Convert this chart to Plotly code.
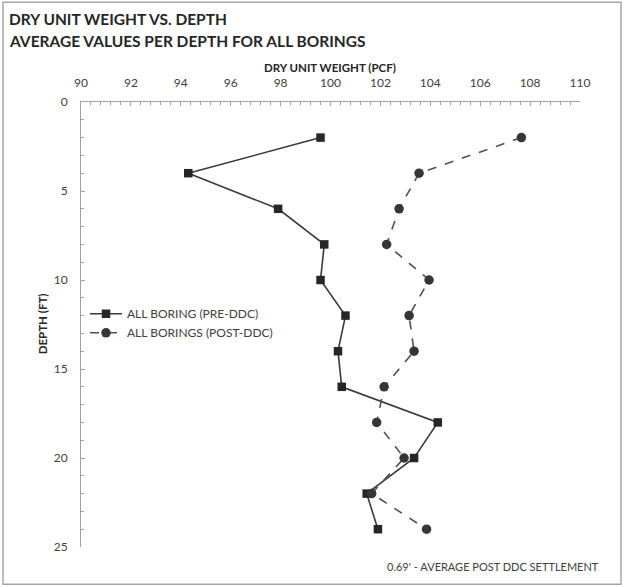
import plotly.graph_objects as go

# Depth of each averaged sample (ft)
depth_ft = [2, 4, 6, 8, 10, 12, 14, 16, 18, 20, 22, 24]

# Average dry unit weight (pcf) before and after dynamic deep compaction
pre_ddc = [99.6, 94.3, 97.9, 99.75, 99.6, 100.6, 100.3, 100.45, 104.3, 103.35, 101.45, 101.9]
post_ddc = [107.65, 103.55, 102.75, 102.25, 103.95, 103.15, 103.35, 102.15, 101.85, 102.95, 101.65, 103.85]

x_ticks = [90, 92, 94, 96, 98, 100, 102, 104, 106, 108, 110]
y_ticks = [0, 5, 10, 15, 20, 25]

W, H = 624, 587
L, R, T, B = 81, 580, 101.7, 546.7
FONT = "Lato"
AX = "#a0a0a0"
TXT = "#404040"


def px(x):
    return (x - L) / (R - L)


def py(y):
    return (B - y) / (B - T)


fig = go.Figure()
fig.add_trace(go.Scatter(
    x=pre_ddc, y=depth_ft, mode="lines+markers", name="ALL BORING (PRE-DDC)",
    line=dict(color="#3a3a3a", width=1.6),
    marker=dict(symbol="square", size=8.5, color="#262626"),
))
fig.add_trace(go.Scatter(
    x=post_ddc, y=depth_ft, mode="lines+markers", name="ALL BORINGS (POST-DDC)",
    line=dict(color="#505050", width=1.6, dash="dash"),
    marker=dict(symbol="circle", size=9.5, color="#363636"),
))

fig.update_layout(
    width=W, height=H,
    margin=dict(l=L, r=W - R, t=T, b=H - B, pad=0),
    paper_bgcolor="white", plot_bgcolor="white",
    font=dict(family=FONT, size=12, color=TXT),
    showlegend=True,
    legend=dict(
        x=px(85), y=py(299), xanchor="left", yanchor="top",
        bgcolor="rgba(0,0,0,0)", font=dict(size=12, color=TXT),
        tracegroupgap=0, itemwidth=32,
    ),
    xaxis=dict(
        range=[90, 110], side="top", tickvals=x_ticks,
        showline=True, linecolor=AX, linewidth=1, mirror=False,
        ticks="inside", ticklen=4, tickcolor=AX, ticklabelstandoff=9,
        minor=dict(dtick=0.4, ticks="inside", ticklen=3, tickcolor=AX),
        showgrid=False, zeroline=False,
        tickfont=dict(size=12, color=TXT), fixedrange=True,
    ),
    yaxis=dict(
        range=[25, 0], tickvals=y_ticks,
        showline=True, linecolor=AX, linewidth=1,
        ticks="inside", ticklen=4, tickcolor=AX, ticklabelstandoff=10,
        minor=dict(dtick=1, ticks="inside", ticklen=3, tickcolor=AX),
        showgrid=False, zeroline=False,
        tickfont=dict(size=12, color=TXT), fixedrange=True,
    ),
)

annotations = [
    dict(text="<b>DRY UNIT WEIGHT VS. DEPTH</b>", x=px(7), y=py(19),
         xanchor="left", yanchor="middle", font=dict(size=15.5, color="#262626")),
    dict(text="<b>AVERAGE VALUES PER DEPTH FOR ALL BORINGS</b>", x=px(7), y=py(41),
         xanchor="left", yanchor="middle", font=dict(size=15.5, color="#262626")),
    dict(text="<b>DRY UNIT WEIGHT (PCF)</b>", x=px(330), y=py(67),
         xanchor="center", yanchor="middle", font=dict(size=11.5, color="#262626")),
    dict(text="<b>DEPTH (FT)</b>", x=px(42), y=py(324), textangle=-90,
         xanchor="center", yanchor="middle", font=dict(size=11.5, color="#262626")),
    dict(text="0.69' - AVERAGE POST DDC SETTLEMENT", x=px(601), y=py(566),
         xanchor="right", yanchor="middle", font=dict(size=11, color=TXT)),
]
for a in annotations:
    a.update(xref="paper", yref="paper", showarrow=False)
fig.update_layout(annotations=annotations)

# Light frame around the whole chart
fig.add_shape(type="rect", xref="paper", yref="paper",
              x0=px(3), x1=px(621), y0=py(584), y1=py(2),
              line=dict(color="#a6a6a6", width=1.5), fillcolor="rgba(0,0,0,0)",
              layer="below")

fig.write_html("out.html")
